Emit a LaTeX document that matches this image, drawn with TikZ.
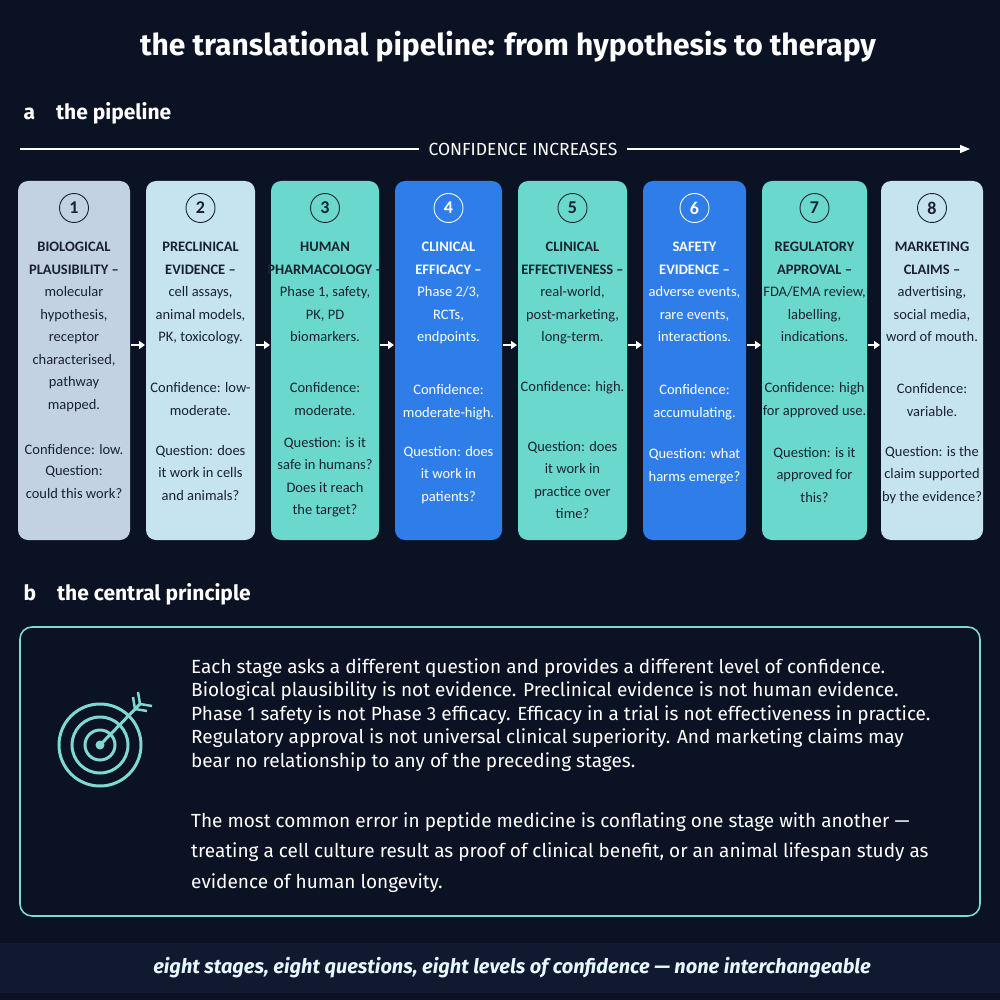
\documentclass[tikz,border=0pt]{standalone}
\usepackage{fontspec}
\setmainfont{Fira Sans}
\newfontfamily\narrow{Carlito}
\usetikzlibrary{arrows.meta}
\definecolor{bg}{HTML}{0B1224}
\definecolor{band}{HTML}{101930}
\definecolor{cA}{HTML}{C3D2E2}
\definecolor{cB}{HTML}{C6E3F0}
\definecolor{cT}{HTML}{6BD8CE}
\definecolor{cU}{HTML}{2F7DE8}
\definecolor{ink}{HTML}{1A2232}
\definecolor{teal}{HTML}{7FD8D2}
\tikzset{
 box/.style={rounded corners=10pt, draw=none},
 num/.style={circle, draw, line width=0.9pt, minimum size=29pt, inner sep=0pt, font=\narrow\fontsize{18}{18}\selectfont\bfseries},
 txt/.style={align=center, font=\narrow\fontsize{14.5}{22.5}\selectfont, inner sep=0pt},
 hd/.style={txt, font=\narrow\fontsize{14.5}{22.5}\selectfont\bfseries},
 stepar/.style={-{Triangle[length=6pt,width=8pt]}, white, line width=2pt},
 para/.style={anchor=west, font=\fontsize{19}{19}\selectfont, text=white, inner sep=0pt},
}
\begin{document}
\begin{tikzpicture}[x=1pt,y=-1pt]
\fill[bg] (0,0) rectangle (1000,1000);
\useasboundingbox (0,0) rectangle (1000,1000);
\node[font=\bfseries\fontsize{30}{30}\selectfont, text=white] (title) at (508,47) {the translational pipeline: from hypothesis to therapy};
\node[anchor=west, font=\bfseries\fontsize{21}{21}\selectfont, text=white] (sa) at (20,113) {a\quad the pipeline};
\node[anchor=west, font=\bfseries\fontsize{21}{21}\selectfont, text=white] (sb) at (20,594) {b\quad the central principle};
\coordinate (cl) at (20,149); \coordinate (cr) at (970,149);
\draw[white, line width=1.2pt, -{Triangle[length=10pt,width=8pt]}] (cl) -- (cr);
\node[fill=bg, text=white, font=\fontsize{17.5}{17.5}\selectfont\mdseries, inner xsep=10pt] (conf) at (523,149) {CONFIDENCE INCREASES};
\foreach \i/\xa/\xb/\fc/\tc/\cy/\qy/\hd/\cf/\qu in {
 1/18/130/cA/ink/450/482/{BIOLOGICAL\\PLAUSIBILITY –\\\mdseries molecular\\\mdseries hypothesis,\\\mdseries receptor\\\mdseries characterised,\\\mdseries pathway\\\mdseries mapped.}/{Confidence: low.}/{Question:\\could this work?},
 2/146/255/cB/ink/399/473/{PRECLINICAL\\EVIDENCE –\\\mdseries cell assays,\\\mdseries animal models,\\\mdseries PK, toxicology.}/{Confidence: low-\\moderate.}/{Question: does\\it work in cells\\and animals?},
 3/271/379/cT/ink/399/477/{HUMAN\\PHARMACOLOGY –\\\mdseries Phase 1, safety,\\\mdseries PK, PD\\\mdseries biomarkers.}/{Confidence:\\moderate.}/{Question: is it\\safe in humans?\\Does it reach\\the target?},
 4/395/502/cU/white/402/475/{CLINICAL\\EFFICACY –\\\mdseries Phase 2/3,\\\mdseries RCTs,\\\mdseries endpoints.}/{Confidence:\\moderate-high.}/{Question: does\\it work in\\patients?},
 5/518/627/cT/ink/388/480/{CLINICAL\\EFFECTIVENESS –\\\mdseries real-world,\\\mdseries post-marketing,\\\mdseries long-term.}/{Confidence: high.}/{Question: does\\it work in\\practice over\\time?},
 6/643/746/cU/white/402/466/{SAFETY\\EVIDENCE –\\\mdseries adverse events,\\\mdseries rare events,\\\mdseries interactions.}/{Confidence:\\accumulating.}/{Question: what\\harms emerge?},
 7/762/867/cT/ink/400/475/{REGULATORY\\APPROVAL –\\\mdseries FDA/EMA review,\\\mdseries labelling,\\\mdseries indications.}/{Confidence: high\\for approved use.}/{Question: is it\\approved for\\this?},
 8/881/983/cB/ink/400/475/{MARKETING\\CLAIMS –\\\mdseries advertising,\\\mdseries social media,\\\mdseries word of mouth.}/{Confidence:\\variable.}/{Question: is the\\claim supported\\by the evidence?}}{
 \fill[box, fill=\fc] (\xa,181) rectangle (\xb,540);
 \coordinate (bl\i) at (\xa,345);
 \coordinate (br\i) at (\xb,345);
 \node[num, draw=\tc, text=\tc] (n\i) at ({(\xa+\xb)/2},208) {\i};
 \node[hd, text=\tc, anchor=north] (h\i) at ({(\xa+\xb)/2},242) {\hd};
 \node[txt, text=\tc] (c\i) at ({(\xa+\xb)/2},\cy) {\cf};
 \node[txt, text=\tc] (q\i) at ({(\xa+\xb)/2},\qy) {\qu};
}
\foreach \a/\b in {1/2,2/3,3/4,4/5,5/6,6/7,7/8}{
 \draw[stepar] ([xshift=1pt]br\a) -- ([xshift=-1pt]bl\b);
}
\draw[teal, line width=1.6pt, rounded corners=12pt] (20,627) rectangle (980,916);
\node[inner sep=0pt, minimum size=84pt, circle] (tgt) at (100,745) {};
\foreach \r in {41,28,15}{\draw[teal, line width=3pt] (tgt.center) circle (\r);}
\fill[teal] (tgt.center) circle (4.5);
\coordinate (tip) at (tgt.center);
\coordinate (tail) at (140,704);
\draw[teal, line width=3pt] (tip) -- (tail);
\draw[teal, line width=2.5pt] (tail) -- ++(-2,-12) (tail) -- ++(12,2) ([shift={(-5,5)}]tail) -- ++(-2,-12) ([shift={(-5,5)}]tail) -- ++(12,2);
\foreach \y/\t in {668/{Each stage asks a different question and provides a different level of confidence.},
 691/{Biological plausibility is not evidence. Preclinical evidence is not human evidence.},
 715/{Phase 1 safety is not Phase 3 efficacy. Efficacy in a trial is not effectiveness in practice.},
 738/{Regulatory approval is not universal clinical superiority. And marketing claims may},
 762/{bear no relationship to any of the preceding stages.},
 785/{},
 822/{The most common error in peptide medicine is conflating one stage with another —},
 852/{treating a cell culture result as proof of clinical benefit, or an animal lifespan study as},
 883/{evidence of human longevity.}}{
 \node[para] at (191,\y) {\t};
}
\fill[band] (0,943) rectangle (1000,993);
\node[text=white!90!cyan, font=\bfseries\itshape\fontsize{20}{20}\selectfont] (foot) at (512,968) {eight stages, eight questions, eight levels of confidence — none interchangeable};
\end{tikzpicture}
\end{document}
